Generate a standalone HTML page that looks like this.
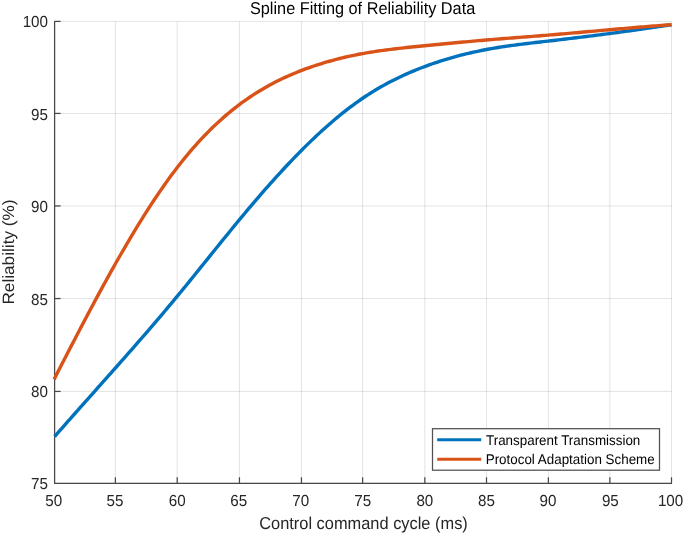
<!DOCTYPE html>
<html><head><meta charset="utf-8"><title>Spline Fitting of Reliability Data</title>
<style>html,body{margin:0;padding:0;background:#fff;}body{width:685px;height:534px;overflow:hidden;}</style>
</head><body>
<svg width="685" height="534" viewBox="0 0 685 534" style="display:block;text-rendering:geometricPrecision;filter:blur(0.45px)">
<rect width="685" height="534" fill="#fff"/>
<g stroke="#262626" stroke-opacity="0.125" stroke-width="1">
<line x1="54.60" y1="21.4" x2="54.60" y2="483.26"/>
<line x1="115.40" y1="21.4" x2="115.40" y2="483.26"/>
<line x1="177.20" y1="21.4" x2="177.20" y2="483.26"/>
<line x1="239.45" y1="21.4" x2="239.45" y2="483.26"/>
<line x1="301.45" y1="21.4" x2="301.45" y2="483.26"/>
<line x1="362.60" y1="21.4" x2="362.60" y2="483.26"/>
<line x1="424.85" y1="21.4" x2="424.85" y2="483.26"/>
<line x1="486.50" y1="21.4" x2="486.50" y2="483.26"/>
<line x1="548.40" y1="21.4" x2="548.40" y2="483.26"/>
<line x1="609.85" y1="21.4" x2="609.85" y2="483.26"/>
<line x1="671.50" y1="21.4" x2="671.50" y2="483.26"/>
<line x1="54.6" y1="483.26" x2="671.5" y2="483.26"/>
<line x1="54.6" y1="391.44" x2="671.5" y2="391.44"/>
<line x1="54.6" y1="298.55" x2="671.5" y2="298.55"/>
<line x1="54.6" y1="205.96" x2="671.5" y2="205.96"/>
<line x1="54.6" y1="113.43" x2="671.5" y2="113.43"/>
<line x1="54.6" y1="21.40" x2="671.5" y2="21.40"/>
</g>
<g stroke="#484848" stroke-width="1.25">
<line x1="54.6" y1="20.9" x2="54.6" y2="483.76"/>
<line x1="54.1" y1="483.26" x2="672.0" y2="483.26"/>
<line x1="115.40" y1="483.26" x2="115.40" y2="477.26"/>
<line x1="177.20" y1="483.26" x2="177.20" y2="477.26"/>
<line x1="239.45" y1="483.26" x2="239.45" y2="477.26"/>
<line x1="301.45" y1="483.26" x2="301.45" y2="477.26"/>
<line x1="362.60" y1="483.26" x2="362.60" y2="477.26"/>
<line x1="424.85" y1="483.26" x2="424.85" y2="477.26"/>
<line x1="486.50" y1="483.26" x2="486.50" y2="477.26"/>
<line x1="548.40" y1="483.26" x2="548.40" y2="477.26"/>
<line x1="609.85" y1="483.26" x2="609.85" y2="477.26"/>
<line x1="671.50" y1="483.26" x2="671.50" y2="477.26"/>
<line x1="54.6" y1="391.44" x2="60.6" y2="391.44"/>
<line x1="54.6" y1="298.55" x2="60.6" y2="298.55"/>
<line x1="54.6" y1="205.96" x2="60.6" y2="205.96"/>
<line x1="54.6" y1="113.43" x2="60.6" y2="113.43"/>
<line x1="54.6" y1="21.40" x2="60.6" y2="21.40"/>
</g>
<path d="M54.60,436.60 L57.17,433.66 L59.74,430.73 L62.31,427.80 L64.88,424.88 L67.45,421.97 L70.02,419.06 L72.59,416.15 L75.16,413.25 L77.73,410.35 L80.30,407.45 L82.87,404.56 L85.44,401.67 L88.02,398.78 L90.59,395.90 L93.16,393.01 L95.73,390.12 L98.30,387.24 L100.87,384.35 L103.44,381.46 L106.01,378.57 L108.58,375.68 L111.15,372.79 L113.72,369.89 L116.29,367.00 L118.86,364.09 L121.43,361.19 L124.00,358.28 L126.57,355.36 L129.14,352.44 L131.71,349.52 L134.28,346.58 L136.85,343.64 L139.42,340.70 L141.99,337.74 L144.56,334.78 L147.13,331.81 L149.71,328.83 L152.28,325.84 L154.85,322.85 L157.42,319.84 L159.99,316.82 L162.56,313.79 L165.13,310.75 L167.70,307.70 L170.27,304.63 L172.84,301.55 L175.41,298.46 L177.98,295.36 L180.55,292.24 L183.12,289.11 L185.69,285.96 L188.26,282.81 L190.83,279.65 L193.40,276.48 L195.97,273.30 L198.54,270.12 L201.11,266.94 L203.68,263.75 L206.25,260.56 L208.82,257.37 L211.40,254.18 L213.97,250.99 L216.54,247.80 L219.11,244.62 L221.68,241.44 L224.25,238.27 L226.82,235.10 L229.39,231.95 L231.96,228.80 L234.53,225.67 L237.10,222.54 L239.67,219.43 L242.24,216.34 L244.81,213.26 L247.38,210.19 L249.95,207.15 L252.52,204.11 L255.09,201.10 L257.66,198.10 L260.23,195.12 L262.80,192.17 L265.37,189.23 L267.94,186.31 L270.51,183.41 L273.09,180.53 L275.66,177.68 L278.23,174.85 L280.80,172.04 L283.37,169.26 L285.94,166.50 L288.51,163.76 L291.08,161.06 L293.65,158.37 L296.22,155.72 L298.79,153.09 L301.36,150.49 L303.93,147.92 L306.50,145.38 L309.07,142.87 L311.64,140.39 L314.21,137.93 L316.78,135.52 L319.35,133.13 L321.92,130.78 L324.49,128.45 L327.06,126.17 L329.63,123.91 L332.21,121.70 L334.78,119.51 L337.35,117.37 L339.92,115.26 L342.49,113.18 L345.06,111.15 L347.63,109.15 L350.20,107.19 L352.77,105.27 L355.34,103.39 L357.91,101.55 L360.48,99.75 L363.05,98.00 L365.62,96.28 L368.19,94.61 L370.76,92.97 L373.33,91.38 L375.90,89.82 L378.47,88.30 L381.04,86.82 L383.61,85.37 L386.18,83.96 L388.75,82.59 L391.32,81.25 L393.89,79.94 L396.47,78.67 L399.04,77.42 L401.61,76.21 L404.18,75.02 L406.75,73.87 L409.32,72.74 L411.89,71.65 L414.46,70.57 L417.03,69.53 L419.60,68.51 L422.17,67.51 L424.74,66.54 L427.31,65.59 L429.88,64.67 L432.45,63.76 L435.02,62.88 L437.59,62.02 L440.16,61.18 L442.73,60.36 L445.30,59.57 L447.87,58.79 L450.44,58.04 L453.01,57.30 L455.59,56.59 L458.16,55.90 L460.73,55.22 L463.30,54.57 L465.87,53.93 L468.44,53.32 L471.01,52.72 L473.58,52.14 L476.15,51.58 L478.72,51.04 L481.29,50.51 L483.86,50.00 L486.43,49.51 L489.00,49.04 L491.57,48.58 L494.14,48.14 L496.71,47.71 L499.28,47.30 L501.85,46.90 L504.42,46.51 L506.99,46.14 L509.56,45.77 L512.13,45.42 L514.70,45.07 L517.27,44.74 L519.85,44.41 L522.42,44.09 L524.99,43.77 L527.56,43.46 L530.13,43.15 L532.70,42.85 L535.27,42.55 L537.84,42.26 L540.41,41.96 L542.98,41.67 L545.55,41.38 L548.12,41.08 L550.69,40.79 L553.26,40.49 L555.83,40.19 L558.40,39.89 L560.97,39.59 L563.54,39.28 L566.11,38.98 L568.68,38.67 L571.25,38.36 L573.82,38.05 L576.39,37.74 L578.97,37.43 L581.54,37.11 L584.11,36.79 L586.68,36.47 L589.25,36.15 L591.82,35.83 L594.39,35.50 L596.96,35.17 L599.53,34.84 L602.10,34.51 L604.67,34.18 L607.24,33.84 L609.81,33.51 L612.38,33.17 L614.95,32.82 L617.52,32.48 L620.09,32.13 L622.66,31.78 L625.23,31.43 L627.80,31.08 L630.37,30.72 L632.94,30.37 L635.51,30.01 L638.08,29.64 L640.65,29.28 L643.23,28.91 L645.80,28.54 L648.37,28.17 L650.94,27.79 L653.51,27.42 L656.08,27.03 L658.65,26.65 L661.22,26.27 L663.79,25.88 L666.36,25.49 L668.93,25.10 L671.50,24.70" fill="none" stroke="#0072bd" stroke-width="3.4" stroke-linejoin="round"/>
<path d="M54.10,379.38 L56.67,374.35 L59.25,369.33 L61.82,364.32 L64.39,359.31 L66.96,354.32 L69.53,349.33 L72.11,344.36 L74.68,339.41 L77.25,334.46 L79.83,329.54 L82.40,324.63 L84.97,319.74 L87.54,314.88 L90.12,310.03 L92.69,305.20 L95.26,300.40 L97.83,295.63 L100.41,290.88 L102.98,286.16 L105.55,281.47 L108.12,276.81 L110.69,272.18 L113.27,267.58 L115.84,263.02 L118.41,258.50 L120.98,254.01 L123.56,249.55 L126.13,245.14 L128.70,240.77 L131.28,236.44 L133.85,232.15 L136.42,227.90 L138.99,223.71 L141.56,219.56 L144.14,215.45 L146.71,211.40 L149.28,207.39 L151.85,203.44 L154.43,199.54 L157.00,195.70 L159.57,191.91 L162.14,188.18 L164.72,184.51 L167.29,180.89 L169.86,177.34 L172.44,173.85 L175.01,170.42 L177.58,167.06 L180.15,163.76 L182.72,160.53 L185.30,157.36 L187.87,154.25 L190.44,151.21 L193.01,148.23 L195.59,145.31 L198.16,142.45 L200.73,139.66 L203.30,136.92 L205.88,134.25 L208.45,131.63 L211.02,129.07 L213.59,126.57 L216.17,124.12 L218.74,121.74 L221.31,119.40 L223.88,117.13 L226.46,114.91 L229.03,112.74 L231.60,110.62 L234.17,108.56 L236.75,106.55 L239.32,104.60 L241.89,102.69 L244.46,100.84 L247.04,99.03 L249.61,97.27 L252.18,95.56 L254.75,93.89 L257.33,92.27 L259.90,90.70 L262.47,89.17 L265.05,87.67 L267.62,86.22 L270.19,84.82 L272.76,83.44 L275.33,82.11 L277.91,80.82 L280.48,79.56 L283.05,78.33 L285.62,77.14 L288.20,75.98 L290.77,74.86 L293.34,73.76 L295.91,72.70 L298.49,71.66 L301.06,70.65 L303.63,69.67 L306.20,68.71 L308.78,67.78 L311.35,66.88 L313.92,66.00 L316.50,65.15 L319.07,64.32 L321.64,63.51 L324.21,62.73 L326.79,61.97 L329.36,61.24 L331.93,60.52 L334.50,59.83 L337.07,59.16 L339.65,58.51 L342.22,57.88 L344.79,57.28 L347.37,56.69 L349.94,56.12 L352.51,55.57 L355.08,55.04 L357.65,54.53 L360.23,54.04 L362.80,53.56 L365.37,53.11 L367.94,52.66 L370.52,52.24 L373.09,51.83 L375.66,51.43 L378.24,51.05 L380.81,50.68 L383.38,50.32 L385.95,49.98 L388.52,49.64 L391.10,49.32 L393.67,49.00 L396.24,48.70 L398.81,48.40 L401.39,48.11 L403.96,47.83 L406.53,47.55 L409.11,47.28 L411.68,47.01 L414.25,46.75 L416.82,46.49 L419.39,46.24 L421.97,45.98 L424.54,45.73 L427.11,45.48 L429.69,45.23 L432.26,44.98 L434.83,44.73 L437.40,44.48 L439.97,44.23 L442.55,43.98 L445.12,43.74 L447.69,43.49 L450.26,43.25 L452.84,43.00 L455.41,42.76 L457.98,42.52 L460.56,42.29 L463.13,42.05 L465.70,41.82 L468.27,41.58 L470.84,41.35 L473.42,41.13 L475.99,40.90 L478.56,40.68 L481.13,40.45 L483.71,40.24 L486.28,40.02 L488.85,39.80 L491.43,39.59 L494.00,39.38 L496.57,39.18 L499.14,38.97 L501.71,38.76 L504.29,38.56 L506.86,38.36 L509.43,38.16 L512.00,37.96 L514.58,37.76 L517.15,37.56 L519.72,37.36 L522.29,37.16 L524.87,36.96 L527.44,36.77 L530.01,36.57 L532.58,36.36 L535.16,36.16 L537.73,35.96 L540.30,35.75 L542.88,35.55 L545.45,35.34 L548.02,35.13 L550.59,34.92 L553.16,34.71 L555.74,34.49 L558.31,34.27 L560.88,34.05 L563.45,33.83 L566.03,33.61 L568.60,33.38 L571.17,33.16 L573.75,32.93 L576.32,32.70 L578.89,32.47 L581.46,32.25 L584.03,32.02 L586.61,31.78 L589.18,31.55 L591.75,31.32 L594.32,31.09 L596.90,30.86 L599.47,30.63 L602.04,30.40 L604.62,30.17 L607.19,29.94 L609.76,29.71 L612.33,29.48 L614.90,29.25 L617.48,29.02 L620.05,28.80 L622.62,28.57 L625.19,28.35 L627.77,28.13 L630.34,27.91 L632.91,27.69 L635.49,27.47 L638.06,27.26 L640.63,27.05 L643.20,26.83 L645.77,26.63 L648.35,26.42 L650.92,26.22 L653.49,26.02 L656.06,25.82 L658.64,25.62 L661.21,25.43 L663.78,25.24 L666.36,25.06 L668.93,24.88 L671.50,24.70" fill="none" stroke="#d95319" stroke-width="3.4" stroke-linejoin="round"/>
<g fill="#262626" font-family="'Liberation Sans', Arial, Helvetica, sans-serif" font-size="15.2">
<text transform="translate(53.70,505.6) scale(1,1.05)" text-anchor="middle">50</text>
<text transform="translate(115.00,505.6) scale(1,1.05)" text-anchor="middle">55</text>
<text transform="translate(177.20,505.6) scale(1,1.05)" text-anchor="middle">60</text>
<text transform="translate(238.75,505.6) scale(1,1.05)" text-anchor="middle">65</text>
<text transform="translate(300.65,505.6) scale(1,1.05)" text-anchor="middle">70</text>
<text transform="translate(362.70,505.6) scale(1,1.05)" text-anchor="middle">75</text>
<text transform="translate(424.85,505.6) scale(1,1.05)" text-anchor="middle">80</text>
<text transform="translate(486.50,505.6) scale(1,1.05)" text-anchor="middle">85</text>
<text transform="translate(548.00,505.6) scale(1,1.05)" text-anchor="middle">90</text>
<text transform="translate(610.35,505.6) scale(1,1.05)" text-anchor="middle">95</text>
<text transform="translate(670.60,505.6) scale(1,1.05)" text-anchor="middle">100</text>
<text transform="translate(48.0,489.43) scale(1,1.05)" text-anchor="end">75</text>
<text transform="translate(48.0,396.81) scale(1,1.05)" text-anchor="end">80</text>
<text transform="translate(48.0,304.62) scale(1,1.05)" text-anchor="end">85</text>
<text transform="translate(48.0,212.03) scale(1,1.05)" text-anchor="end">90</text>
<text transform="translate(48.0,119.60) scale(1,1.05)" text-anchor="end">95</text>
<text transform="translate(48.0,27.07) scale(1,1.05)" text-anchor="end">100</text>
</g>
<g fill="#262626" font-family="'Liberation Sans', Arial, Helvetica, sans-serif" font-size="16.4">
<text transform="translate(362.6,14.2) scale(1,1.05)" text-anchor="middle" fill="#000" font-size="16.3">Spline Fitting of Reliability Data</text>
<text transform="translate(363.5,529.1) scale(1,1.05)" text-anchor="middle">Control command cycle (ms)</text>
<text transform="translate(13.8,252.0) scale(1,1.05) rotate(-90)" text-anchor="middle">Reliability (%)</text>
</g>
<rect x="432.5" y="428.7" width="227" height="41.5" fill="#fff" stroke="#505050" stroke-width="1.25"/>
<line x1="437.2" y1="439.8" x2="481.2" y2="439.8" stroke="#0072bd" stroke-width="3.1"/>
<line x1="437.2" y1="459.2" x2="481.2" y2="459.2" stroke="#d95319" stroke-width="3.1"/>
<g fill="#000" font-family="'Liberation Sans', Arial, Helvetica, sans-serif" font-size="13.4">
<text transform="translate(486.0,445.0) scale(1,1.05)">Transparent Transmission</text>
<text transform="translate(485.7,464.4) scale(1,1.05)">Protocol Adaptation Scheme</text>
</g>
</svg>
</body></html>
